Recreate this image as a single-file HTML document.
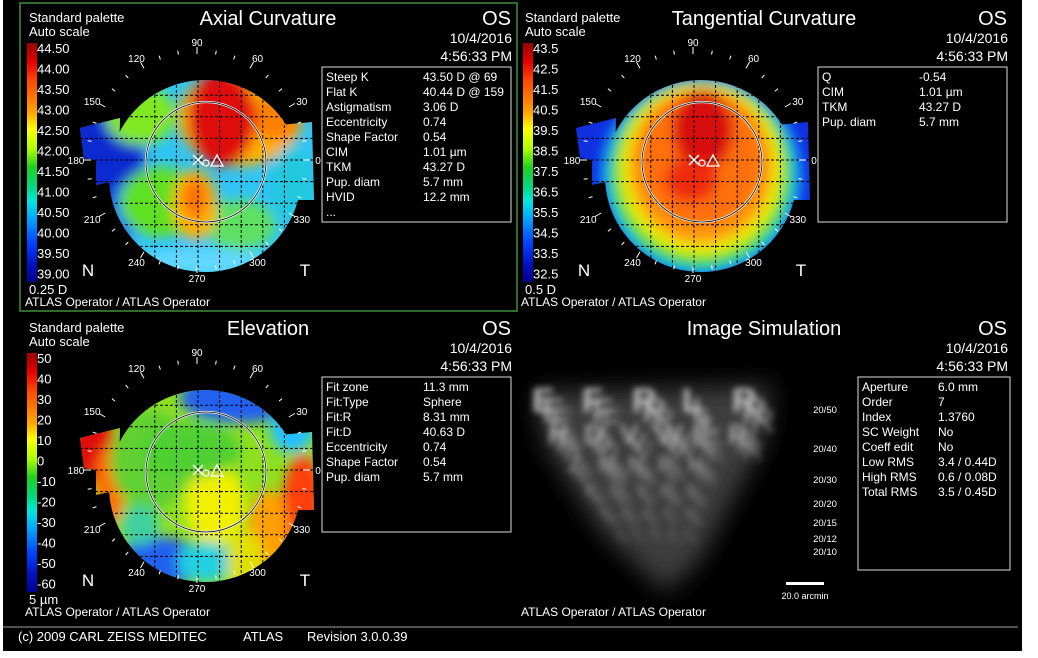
<!DOCTYPE html>
<html><head><meta charset="utf-8"><style>
html,body{margin:0;padding:0;background:#fff;}
svg{display:block;font-family:"Liberation Sans",sans-serif;}
</style></head><body>
<svg id="s" width="1038" height="658" viewBox="0 0 1038 658" xmlns="http://www.w3.org/2000/svg">
<defs>
<linearGradient id="pal" x1="0" y1="0" x2="0" y2="1">
<stop offset="0" stop-color="#9a0000"/><stop offset="0.08" stop-color="#e80000"/><stop offset="0.16" stop-color="#ff4a00"/><stop offset="0.24" stop-color="#ff8000"/><stop offset="0.30" stop-color="#ffb000"/><stop offset="0.36" stop-color="#ffff00"/><stop offset="0.44" stop-color="#b0ff00"/><stop offset="0.52" stop-color="#20d020"/><stop offset="0.60" stop-color="#00d880"/><stop offset="0.66" stop-color="#00e8e0"/><stop offset="0.74" stop-color="#00a0ff"/><stop offset="0.84" stop-color="#0040ff"/><stop offset="0.93" stop-color="#0010c0"/><stop offset="1" stop-color="#000090"/>
</linearGradient>
<filter id="bl" x="-30%" y="-30%" width="160%" height="160%"><feGaussianBlur stdDeviation="6"/></filter>
<filter id="bl2" x="-30%" y="-30%" width="160%" height="160%"><feGaussianBlur stdDeviation="3.5"/></filter>
<filter id="bl3" x="-30%" y="-30%" width="160%" height="160%"><feGaussianBlur stdDeviation="12"/></filter>
</defs>
<rect x="3" y="0" width="1019" height="651" fill="#000"/>
</svg>
<script>
const NS='http://www.w3.org/2000/svg';
const svg=document.getElementById('s');
function mk(tag,attrs,parent,text){const e=document.createElementNS(NS,tag);for(const k in attrs)e.setAttribute(k,attrs[k]);if(text!==undefined)e.textContent=text;(parent||svg).appendChild(e);return e;}

const axialScale=['44.50','44.00','43.50','43.00','42.50','42.00','41.50','41.00','40.50','40.00','39.50','39.00'];
const tangScale=['43.5','42.5','41.5','40.5','39.5','38.5','37.5','36.5','35.5','34.5','33.5','32.5'];
const elevScale=['50','40','30','20','10','0','-10','-20','-30','-40','-50','-60'];
const angleLabels=[0,30,60,90,120,150,180,210,240,270,300,330];
const axialInfo=[['Steep K','43.50 D @ 69'],['Flat K','40.44 D @ 159'],['Astigmatism','3.06 D'],['Eccentricity','0.74'],['Shape Factor','0.54'],['CIM','1.01 µm'],['TKM','43.27 D'],['Pup. diam','5.7 mm'],['HVID','12.2 mm'],['...','']];
const tangInfo=[['Q','-0.54'],['CIM','1.01 µm'],['TKM','43.27 D'],['Pup. diam','5.7 mm']];
const elevInfo=[['Fit zone','11.3 mm'],['Fit:Type','Sphere'],['Fit:R','8.31 mm'],['Fit:D','40.63 D'],['Eccentricity','0.74'],['Shape Factor','0.54'],['Pup. diam','5.7 mm']];
const simInfo=[['Aperture','6.0 mm'],['Order','7'],['Index','1.3760'],['SC Weight','No'],['Coeff edit','No'],['Low RMS','3.4 / 0.44D'],['High RMS','0.6 / 0.08D'],['Total RMS','3.5 / 0.45D']];
const acuity=['20/50','20/40','20/30','20/20','20/15','20/12','20/10'];
const acuityY=[413,452,483,507,526,542,555];

const axialBase='#30c4f4';
const axialBlobs=[[105,150,40,60,'#0a2ad0'],[128,210,18,28,'#1a70f0'],[140,115,35,30,'#80e820'],[240,118,62,48,'#ffb000'],[275,118,25,22,'#ff8000'],[222,118,34,48,'#e01010'],[160,202,40,35,'#60e020'],[240,225,35,25,'#60e060'],[195,205,22,35,'#ffb000'],[195,198,12,20,'#ff7000'],[200,262,70,14,'#60d8ff'],[292,185,22,40,'#20c8e0']];
const tangBase='#1030e0';
const tangBlobs=[[205,176,100,100,'#10b0ff'],[205,174,92,94,'#30d830'],[205,170,82,86,'#e8f000'],[205,166,72,78,'#ff9a10'],[205,160,60,66,'#ff7010'],[207,130,30,40,'#d80a0a'],[195,180,26,22,'#f02a10']];
const elevBase='#8ee020';
const elevBlobs=[[92,128,22,45,'#e01010'],[110,175,15,40,'#ff7000'],[240,88,60,25,'#2060f0'],[292,118,22,25,'#20c0ff'],[303,205,22,60,'#ff4010'],[268,220,20,40,'#ffa000'],[150,150,40,50,'#60d030'],[215,195,30,40,'#f0f000'],[190,140,50,28,'#50d030'],[160,252,42,25,'#2060f0'],[205,252,28,20,'#20d0e0'],[245,250,18,30,'#e0e000'],[140,215,20,20,'#40d0a0']];

function panel(dx,dy,o){
  const g=mk('g',{transform:`translate(${dx},${dy})`});
  
  
  const t=(x,y,s,txt,extra)=>{const e=mk('text',Object.assign({x,y,'font-size':s,fill:'#fff'},extra||{}),g,txt);return e;};
  if(o.title){const e=t(268,25,20,o.title,{'text-anchor':'middle'});}
  t(511,25,20,'OS',{'text-anchor':'end'});
  t(512,43,14,'10/4/2016',{'text-anchor':'end'});
  t(512,61,14,'4:56:33 PM',{'text-anchor':'end'});
  if(o.scale){
    t(29,22,13,'Standard palette');t(29,36,13,'Auto scale');
    const bar=mk('rect',{x:27,y:43,width:10,height:239,fill:'url(#pal)'},g);
    
    o.scale.forEach((v,i)=>{const e=t(37,53+i*20.5,13,v);});
    t(29,294,13,o.unit);
    const cid='clip'+dx+'_'+dy;
    const cp=mk('clipPath',{id:cid},g);
    mk('circle',{cx:205,cy:176,r:96},cp);
    mk('path',{d:'M80,128 L120,118 L118,180 L96,185 L96,160 L84,158 Z'},cp);
    mk('path',{d:'M280,125 L312,122 L314,200 L280,200 Z'},cp);
    const m=mk('g',{'clip-path':`url(#${cid})`},g);
    
    mk('rect',{x:70,y:70,width:260,height:215,fill:o.base},m);
    const bg=mk('g',{filter:'url(#bl)'},m);
    o.blobs.forEach(b=>mk('ellipse',{cx:b[0],cy:b[1],rx:b[2],ry:b[3],fill:b[4]},bg));
    for(let k=-2;k<=4;k++)mk('line',{x1:198+k*21.6,y1:70,x2:198+k*21.6,y2:285,stroke:'#000','stroke-width':1,'stroke-dasharray':'3,2'},m);
    for(let k=-3;k<=4;k++)mk('line',{x1:70,y1:160+k*21.6,x2:330,y2:160+k*21.6,stroke:'#000','stroke-width':1,'stroke-dasharray':'3,2'},m);
    const pc=mk('circle',{cx:206,cy:162,r:60,fill:'none',stroke:'#fff','stroke-width':2.2},g);
    mk('circle',{cx:206,cy:162,r:60,fill:'none',stroke:'#000','stroke-width':0.8},g);
    
    mk('path',{d:'M193,155 L203,165 M203,155 L193,165',stroke:'#fff','stroke-width':1.5},g);
    mk('circle',{cx:206,cy:163,r:3,fill:'none',stroke:'#fff','stroke-width':1.2},g);
    mk('path',{d:'M217,155 L223,166 L211,166 Z',fill:'none',stroke:'#fff','stroke-width':1.3},g);
    const cx=197,cy=160;
    for(let a=0;a<360;a+=10){
      const r=a%30===0?106:107, r2=a%30===0?113:111;
      const rad=a*Math.PI/180;
      mk('line',{x1:cx+r*Math.cos(rad),y1:cy-r*Math.sin(rad),x2:cx+r2*Math.cos(rad),y2:cy-r2*Math.sin(rad),stroke:'#fff','stroke-width':1},g);
    }
    angleLabels.forEach(a=>{const rad=a*Math.PI/180;const e=t(cx+121*Math.cos(rad),cy-118*Math.sin(rad)+4,10,String(a),{'text-anchor':'middle'});});
    t(88,276,17,'N',{'text-anchor':'middle'});t(305,276,17,'T',{'text-anchor':'middle'});
  }
  const bx=o.box[0],by=o.box[1],bw=o.box[2],bh=o.box[3];
  const box=mk('rect',{x:bx,y:by,width:bw,height:bh,fill:'none',stroke:'#ddd','stroke-width':1},g);
  
  o.info.forEach((r,i)=>{t(bx+4,by+14+i*15,12,r[0]);t(bx+o.valX,by+14+i*15,12,r[1]);});
  t(25,306,12,'ATLAS Operator / ATLAS Operator');
  return g;
}

const brd=mk('rect',{x:20,y:3,width:497,height:308,fill:'none',stroke:'#2f6a2f','stroke-width':2});


panel(0,0,{name:'axial-curvature-panel',title:'Axial Curvature',scale:axialScale,unit:'0.25 D',base:axialBase,blobs:axialBlobs,box:[322,67,189,155],info:axialInfo,valX:101});
panel(496,0,{name:'tangential-curvature-panel',title:'Tangential Curvature',scale:tangScale,unit:'0.5 D',base:tangBase,blobs:tangBlobs,box:[322,67,189,155],info:tangInfo,valX:101});
panel(0,310,{name:'elevation-panel',title:'Elevation',scale:elevScale,unit:'5 µm',base:elevBase,blobs:elevBlobs,box:[322,67,189,155],info:elevInfo,valX:101});
panel(496,310,{name:'image-simulation-panel',title:'Image Simulation',box:[362,67,152,193],info:simInfo,valX:80});

const sg=mk('g',{});

mk('path',{d:'M535,392 L772,385 L765,440 L700,560 L665,592 L600,530 L545,445 Z',fill:'#3c3c3c',filter:'url(#bl3)'},sg);
const rows=[['EFRLR',412,34,'#c8c8c8',532,50,10],['HDVWER',444,28,'#a8a8a8',548,36,8],['ZMNPH',472,22,'#909090',568,30,7],['KDVRS',497,18,'#7a7a7a',585,25,6],['NHEFR',518,15,'#686868',600,21,5],['ZFRDS',537,12,'#585858',615,17,4]];
const lg=mk('g',{filter:'url(#bl2)'},sg);
rows.forEach(r=>{for(let i=0;i<r[0].length;i++){
  mk('text',{x:r[4]+i*r[5],y:r[1],'font-size':r[2],'font-weight':'bold',fill:r[3]},lg,r[0][i]);
  mk('text',{x:r[4]+i*r[5]+r[6],y:r[1]+r[6],'font-size':r[2],'font-weight':'bold',fill:r[3],opacity:0.7},lg,r[0][i]);
  mk('text',{x:r[4]+i*r[5]+r[6]*1.8,y:r[1]+r[6]*2,'font-size':r[2],'font-weight':'bold',fill:r[3],opacity:0.45},lg,r[0][i]);}});
acuity.forEach((a,i)=>{const e=mk('text',{x:825,y:acuityY[i],'font-size':9.5,fill:'#fff','text-anchor':'middle'},svg,a);});
const sb=mk('rect',{x:786,y:582,width:38,height:3,fill:'#fff'});

mk('text',{x:805,y:599,'font-size':9,fill:'#fff','text-anchor':'middle'},svg,'20.0 arcmin');

const fl=mk('line',{x1:3,y1:627,x2:1018,y2:627,stroke:'#9aa49a','stroke-width':1});

const fg=mk('g',{});

mk('text',{x:18,y:641,'font-size':13,fill:'#fff'},fg,'(c) 2009 CARL ZEISS MEDITEC');
mk('text',{x:243,y:641,'font-size':13,fill:'#fff'},fg,'ATLAS');
mk('text',{x:307,y:641,'font-size':13,fill:'#fff'},fg,'Revision  3.0.0.39');
</script>
</body></html>
